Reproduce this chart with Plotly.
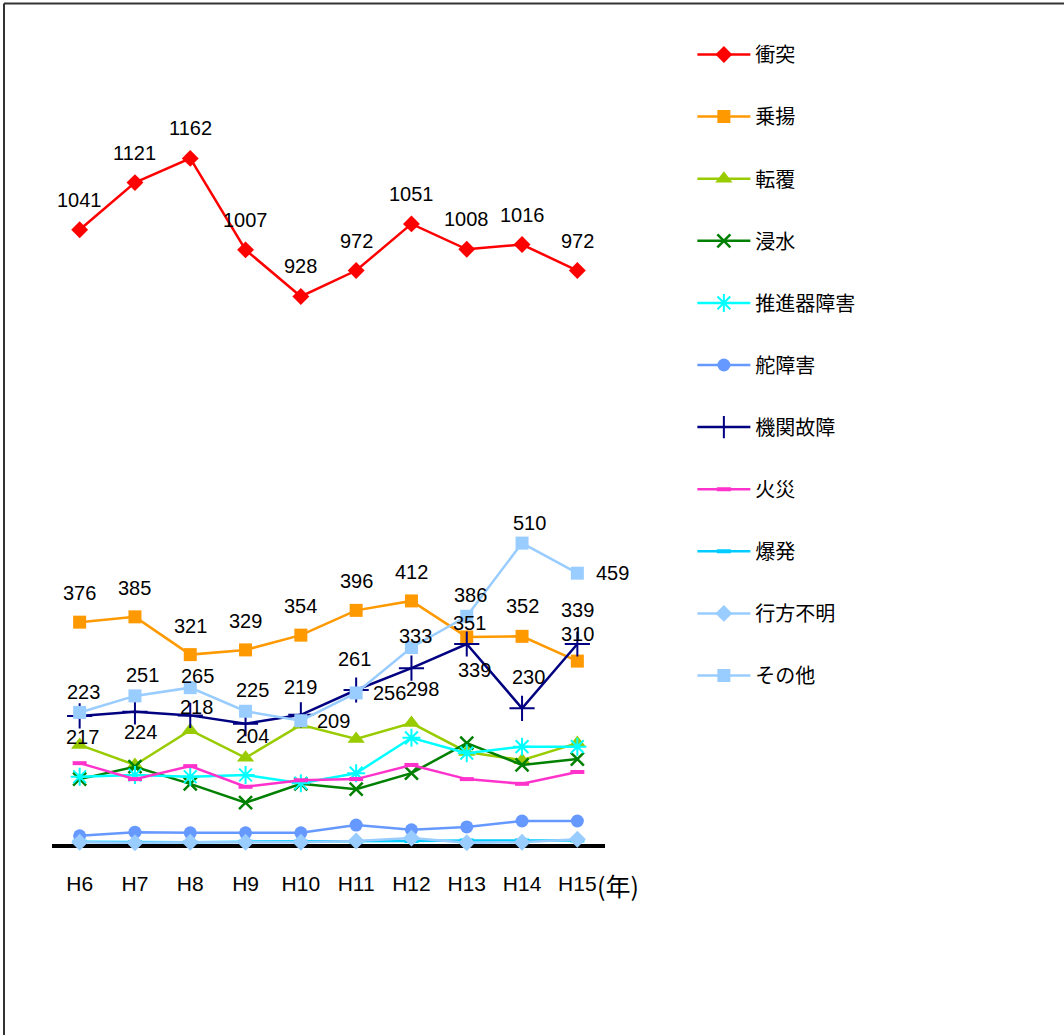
import plotly.graph_objects as go

# 海難種類別の発生隻数 (H6-H15)
years = ["H6", "H7", "H8", "H9", "H10", "H11", "H12", "H13", "H14", "H15"]

collision = [1041, 1121, 1162, 1007, 928, 972, 1051, 1008, 1016, 972]
grounding = [376, 385, 321, 329, 354, 396, 412, 351, 352, 310]
capsize = [168, 134, 193, 146, 202, 178, 205, 156, 142, 171]
flooding = [110, 131, 102, 70, 102, 93, 120, 171, 134, 144]
propeller = [114, 117, 114, 117, 103, 120, 180, 154, 165, 165]
rudder = [14, 20, 19, 19, 19, 32, 24, 29, 39, 39]
engine = [217, 224, 218, 204, 219, 261, 298, 339, 230, 339]
fire = [137, 110, 132, 97, 108, 110, 134, 110, 102, 122]
explosion = [4, 3, 3, 4, 4, 4, 5, 6, 6, 6]
missing = [3, 2, 3, 3, 3, 5, 10, 2, 3, 8]
other = [223, 251, 265, 225, 209, 256, 333, 386, 510, 459]

NUM_FONT = "Liberation Sans, Arial"
JP_FONT = "Noto Sans CJK JP, Liberation Sans"

# name, values, colour, symbol, size, marker line width
series = [
    ("衝突", collision, "#FF0000", "diamond", 13, 0),
    ("乗揚", grounding, "#FF9900", "square", 13, 0),
    ("転覆", capsize, "#99CC00", "triangle-up", 15, 0),
    ("浸水", flooding, "#008000", "x-thin-open", 13, 2.5),
    ("推進器障害", propeller, "#00FFFF", "asterisk-open", 15, 2),
    ("舵障害", rudder, "#6699FF", "circle", 13, 0),
    ("機関故障", engine, "#000080", "cross-thin-open", 18, 2),
    ("火災", fire, "#FF33CC", "line-ew-open", 10, 4),
    ("爆発", explosion, "#00CCFF", "line-ew-open", 10, 4),
    ("行方不明", missing, "#99CCFF", "diamond", 13, 0),
    ("その他", other, "#99CCFF", "square", 13, 0),
]

fig = go.Figure()
for i, (name, vals, col, sym, size, lw) in enumerate(series):
    fig.add_trace(go.Scatter(
        x=years, y=vals, name=name, mode="lines+markers",
        line=dict(color=col, width=2.5),
        marker=dict(symbol=sym, size=size, color=col,
                    line=dict(color=col, width=lw)),
        legendgroup=str(i), cliponaxis=False,
    ))

# data label offsets (px) for the labelled series
label_sets = [
    (collision, [(0, 30)] * 10),
    (grounding, [(0, 29)] * 7 + [(3, 14), (0, 30), (0, 27)]),
    (engine, [(3, -21), (6, -20), (6, 8), (7, -12), (0, 28),
              (-2, 31), (11, -21), (8, -26), (6, 31), (0, 34)]),
    (other, [(4, 20), (8, 21), (7, 12), (7, 21), (33, 0),
             (33, 0), (4, 12), (4, 21), (7, 20), (35, 0)]),
]
for vals, offs in label_sets:
    for x, v, (dx, dy) in zip(years, vals, offs):
        fig.add_annotation(x=x, y=v, text=str(v), showarrow=False,
                           xshift=dx, yshift=dy,
                           font=dict(family=NUM_FONT, size=20, color="black"))

fig.add_annotation(x=9.5, y=0, xref="x", yref="y", text="(年)", showarrow=False,
                   xanchor="left", yanchor="middle", xshift=-10, yshift=-41,
                   font=dict(family=JP_FONT, size=25, color="black"))

# outer frame (only left and top edges visible)
fig.add_shape(type="line", xref="paper", yref="paper",
              x0=-0.0868, x1=-0.0868, y0=-0.3, y1=1.0175,
              line=dict(color="#333333", width=2))
fig.add_shape(type="line", xref="paper", yref="paper",
              x0=-0.0868, x1=1.9, y0=1.0175, y1=1.0175,
              line=dict(color="#333333", width=2))

fig.update_layout(
    width=1064, height=1035,
    margin=dict(l=52, r=459, t=18, b=191),
    paper_bgcolor="white", plot_bgcolor="white",
    font=dict(family=NUM_FONT, size=20, color="black"),
    xaxis=dict(type="category", range=[-0.5, 9.5], showgrid=False,
               showline=True, linecolor="black", linewidth=4,
               ticks="", ticklabelstandoff=18, layer="below traces",
               tickfont=dict(family=NUM_FONT, size=21)),
    yaxis=dict(range=[0, 1400], visible=False),
    legend=dict(x=1.158, y=0.9794, xanchor="left", yanchor="top",
                itemwidth=53, tracegroupgap=33.1,
                font=dict(family=JP_FONT, size=20, color="black"),
                bgcolor="rgba(0,0,0,0)"),
)

fig.write_html("out.html", config={"displayModeBar": False},
               post_script="document.body.style.margin='0px';")
